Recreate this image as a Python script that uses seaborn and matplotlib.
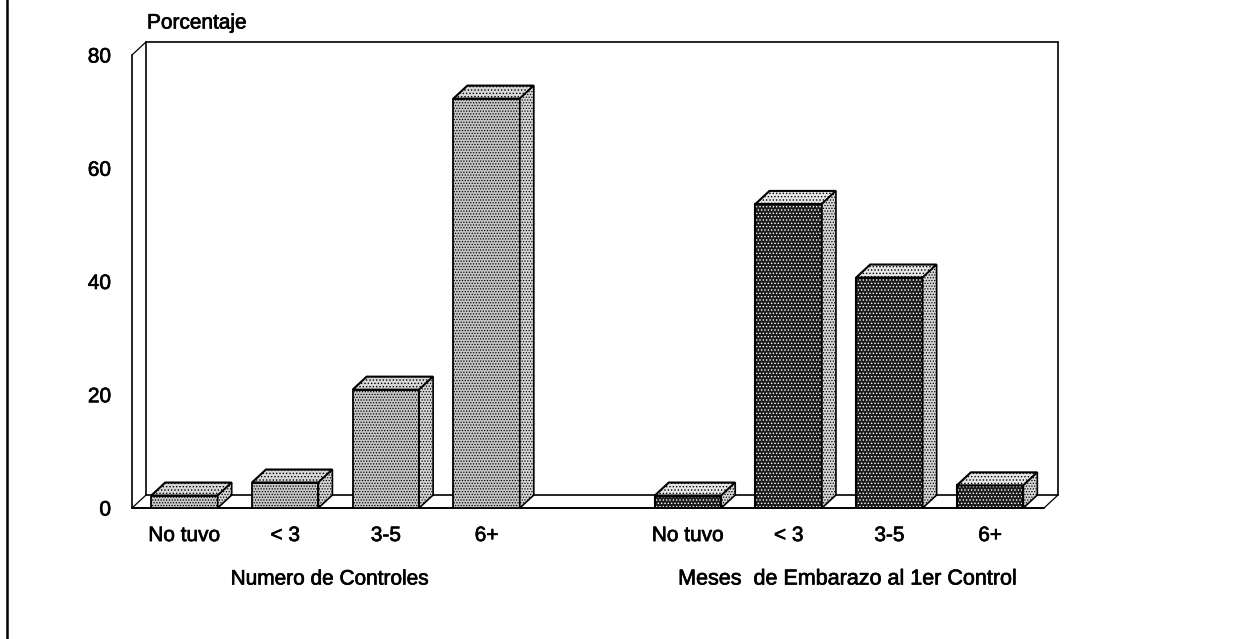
import matplotlib
matplotlib.use("Agg")
import matplotlib.pyplot as plt
import matplotlib.patheffects as pe
import seaborn as sns
import pandas as pd
from matplotlib.lines import Line2D
from matplotlib.patches import Polygon

group_a = "Numero de Controles"
group_b = "Meses  de Embarazo al 1er Control"
categories = ["No tuvo", "< 3", "3-5", "6+"]
values_a = [2.2, 4.5, 20.9, 72.3]
values_b = [2.2, 53.7, 40.7, 4]
y_ticks = [0, 20, 40, 60, 80]
y_title = "Porcentaje"

W, H, DPI = 1241, 639, 100
sns.set_theme(style="white")
plt.rcParams["font.family"] = ["Liberation Sans", "DejaVu Sans"]
plt.rcParams["hatch.linewidth"] = 0.6
FS = 15
thick = [pe.withStroke(linewidth=0.5, foreground="black")]

df = pd.DataFrame({
    "slot": [f"a{c}" for c in categories] + [f"b{c}" for c in categories],
    "pct": values_a + values_b,
    "group": ["a"] * 4 + ["b"] * 4,
})
order = [f"a{c}" for c in categories] + ["gap"] + [f"b{c}" for c in categories]

fig = plt.figure(figsize=(W / DPI, H / DPI), dpi=DPI, facecolor="white")
L, R, T, B = 132, 1044, 55, 508
ax = fig.add_axes([L / W, 1 - B / H, (R - L) / W, (B - T) / H])
sns.barplot(data=df, x="slot", y="pct", hue="group", order=order, dodge=False,
            width=0.66, palette={"a": "#c6c6c6", "b": "#1c1c1c"}, legend=False,
            edgecolor="black", linewidth=1.3, ax=ax, zorder=3)
ax.set_xlim(-0.521, 8.535)
ax.set_ylim(0, 80)

dx = 14 / 100.7
dy = 13 / ((B - T) / 80)

bars = [p for p in ax.patches if p.get_height() > 0]
for p in bars:
    x0, w, h = p.get_x(), p.get_width(), p.get_height()
    dark = x0 > 4
    if dark:
        # white stipple on a near-black face, outline redrawn on top
        p.set_edgecolor("white")
        p.set_hatch(".....")
        ax.add_patch(Polygon([(x0, 0), (x0, h), (x0 + w, h), (x0 + w, 0)], closed=True,
                             fill=False, edgecolor="black", lw=1.5, zorder=3.5))
    else:
        p.set_hatch("......")
    top = Polygon([(x0, h), (x0 + dx, h + dy), (x0 + w + dx, h + dy), (x0 + w, h)],
                  closed=True, facecolor="#e6e6e6" if dark else "#d8d8d8",
                  edgecolor="black", lw=1.5, hatch=".....", zorder=4, clip_on=False)
    side = Polygon([(x0 + w, 0), (x0 + w + dx, dy), (x0 + w + dx, h + dy), (x0 + w, h)],
                   closed=True, facecolor="#d6d6d6", edgecolor="black", lw=1.2,
                   hatch="......", zorder=4, clip_on=False)
    ax.add_patch(top)
    ax.add_patch(side)

xl, xr = ax.get_xlim()
yb, yt = ax.get_ylim()
frame = [
    ([xl, xl], [yb, yt], 1.2),
    ([xl, xr], [yb, yb], 1.4),
    ([xl, xl + dx], [yb, yb + dy], 0.9),
    ([xl, xl + dx], [yt, yt + dy], 0.9),
    ([xr, xr + dx], [yb, yb + dy], 0.9),
    ([xl + dx, xl + dx], [yb + dy, yt + dy], 1.2),
    ([xr + dx, xr + dx], [yb + dy, yt + dy], 1.2),
    ([xl + dx, xr + dx], [yt + dy, yt + dy], 1.2),
    ([xl + dx, xr + dx], [yb + dy, yb + dy], 1.2),
]
for xs, ys, lw in frame:
    ax.add_line(Line2D(xs, ys, color="black", lw=lw, clip_on=False, zorder=2))

sns.despine(ax=ax, left=True, bottom=True)
ax.set_xlabel("")
ax.set_ylabel("")
ax.set_yticks(y_ticks)
ax.tick_params(axis="both", length=0, labelsize=FS, labelcolor="black")
ax.tick_params(axis="y", pad=15)
ax.tick_params(axis="x", pad=13)
ax.set_xticks([0, 1, 2, 3, 5, 6, 7, 8])
ax.set_xticklabels(categories + categories)
for t in ax.get_xticklabels() + ax.get_yticklabels():
    t.set_path_effects(thick)

fig.text(147 / W, 1 - 23 / H, y_title, fontsize=FS, color="black", va="center", ha="left", path_effects=thick)
fig.text(330 / W, 1 - 579 / H, group_a, fontsize=FS, color="black", va="center", ha="center", path_effects=thick)
fig.text(847 / W, 1 - 579 / H, group_b, fontsize=15.5, color="black", va="center", ha="center", path_effects=thick)

# scanned page rule on the left margin
fig.add_artist(Line2D([7 / W, 7 / W], [0, 1], color="black", lw=1.8))

fig.savefig("out.png", dpi=DPI)
